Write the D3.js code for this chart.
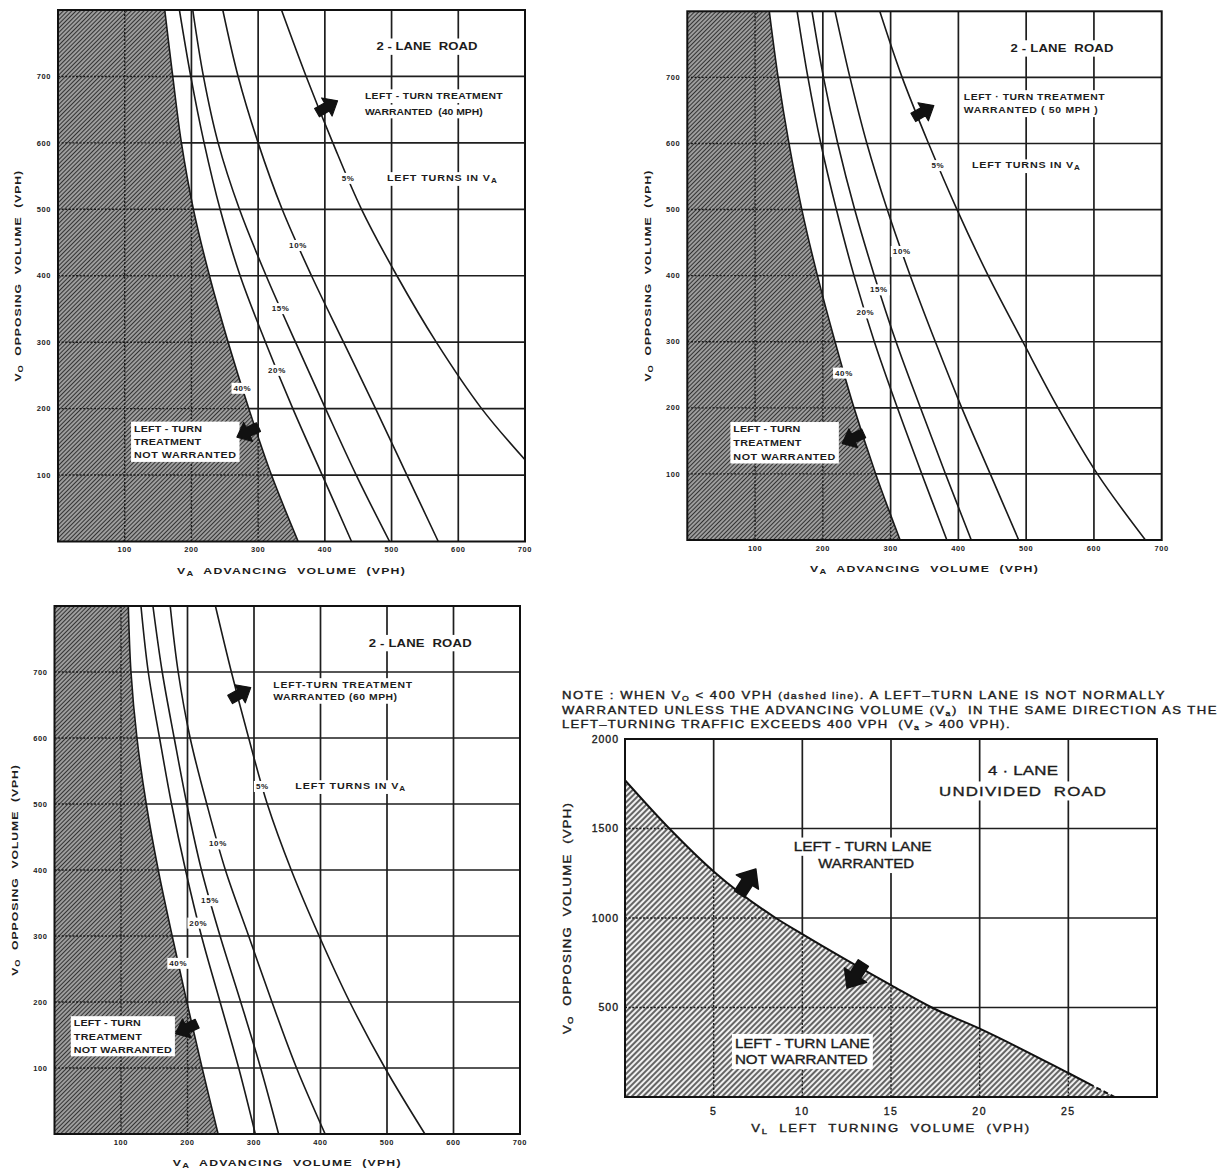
<!DOCTYPE html>
<html>
<head>
<meta charset="utf-8">
<script src="https://cdn.jsdelivr.net/npm/d3@7"></script>
<style>
  body { margin: 0; background: #fff; }
  svg text { font-family: "Liberation Sans", Arial, sans-serif; fill: #1c1c1c; white-space: pre; }
  .med { stroke: #1c1c1c; stroke-width: 0.35; }
</style>
</head>
<body>
<svg id="chart" width="1226" height="1173"></svg>
<script>
// ---- values ----
var vaTicks = [100, 200, 300, 400, 500, 600, 700];
var voTicks = [100, 200, 300, 400, 500, 600, 700];
var pctLabels = ["40%", "20%", "15%", "10%", "5%"];

// [VA, VO] points of each curve, 40% (edge of shading) first
var curves40mph = [
  [[160,800],[172,700],[185,600],[203,500],[227,400],[255,300],[286,200],[320,100],[360,0]],
  [[182,800],[199,700],[219,600],[243,500],[273,400],[311,300],[352,200],[396,100],[440,0]],
  [[202,800],[218,700],[240,600],[272,500],[312,400],[356,300],[401,200],[447,100],[497,0]],
  [[247,800],[270,700],[300,600],[336,500],[380,400],[428,300],[476,200],[523,100],[570,0]],
  [[335,800],[372,700],[412,600],[455,500],[508,400],[567,300],[635,200],[700,123]]
];
var curves50mph = [
  [[121,800],[134,700],[150,600],[169,500],[192,400],[218,300],[246,200],[278,100],[314,0]],
  [[162,800],[178,700],[197,600],[220,500],[246,400],[276,300],[310,200],[346,100],[383,0]],
  [[184,800],[201,700],[222,600],[247,500],[276,400],[308,300],[344,200],[381,100],[419,0]],
  [[218,800],[240,700],[265,600],[295,500],[329,400],[366,300],[405,200],[447,100],[489,0]],
  [[284,800],[317,700],[356,600],[398,500],[444,400],[495,300],[547,200],[605,100],[676,0]]
];
var curves60mph = [
  [[111,800],[115,700],[124,600],[138,500],[156,400],[177,300],[199,200],[222,100],[246,0]],
  [[130,800],[141,700],[158,600],[176,500],[197,400],[221,300],[249,200],[277,100],[302,0]],
  [[148,800],[162,700],[180,600],[199,500],[221,400],[249,300],[280,200],[310,100],[337,0]],
  [[174,800],[186,700],[204,600],[229,500],[257,400],[292,300],[327,200],[364,100],[407,0]],
  [[242,800],[266,700],[292,600],[320,500],[356,400],[398,300],[444,200],[497,100],[557,0]]
];

var vlTicks = [5, 10, 15, 20, 25];
var vo4Ticks = [500, 1000, 1500, 2000];
// [VL, VO] boundary of the 4-lane chart
var boundary4lane = [[0,1770],[2.5,1500],[5,1260],[8.5,1000],[10,910],[15,625],[17.3,500],[20,382],[25,134],[27.6,0]];

// ---- drawing ----
var svg = d3.select("#chart");
var defs = svg.append("defs");

function hatch(id, size, bg, stroke, w) {
  var p = defs.append("pattern").attr("id", id).attr("patternUnits", "userSpaceOnUse")
    .attr("width", size).attr("height", size).attr("patternTransform", "rotate(45)");
  p.append("rect").attr("width", size).attr("height", size).attr("fill", bg);
  p.append("line").attr("x1", size / 2).attr("x2", size / 2).attr("y1", 0).attr("y2", size)
    .attr("stroke", stroke).attr("stroke-width", w);
}
hatch("hatchDark", 3, "#c0c0c0", "#333", 1.5);
hatch("hatchLight", 4, "#f0f0f0", "#2a2a2a", 1.4);

// stretch the glyphs a little and spread the rest, so the text spans "target" px
function fitWidth(t, target, maxStretch) {
  maxStretch = maxStretch || 1.25;
  t.attr("letter-spacing", 0).attr("transform", null);
  var w = t.node().getComputedTextLength();
  var n = t.text().length;
  var s = Math.min(target / w, maxStretch);
  var ls = n > 1 ? Math.max(0, (target / s - w) / (n - 1)) : 0;
  t.attr("letter-spacing", ls);
  var ax = +t.attr("x") || 0;
  t.attr("transform", "translate(" + ax + ",0) scale(" + s + ",1) translate(" + (-ax) + ",0)");
}

// text with optional white box behind it
function addLabel(g, x, y, html, o) {
  o = o || {};
  var grp = g.append("g");
  var bg = grp.append("rect").attr("fill", "#fff");
  var tg = grp.append("g");
  var t = tg.append("text").attr("x", x).attr("y", y).attr("dy", "0.35em")
    .attr("font-size", o.size || 8).attr("font-weight", o.weight || "bold")
    .attr("text-anchor", o.anchor || "start").attr("class", o.cls || null).html(html);
  if (o.width) fitWidth(t, o.width);
  else if (o.ls) t.attr("letter-spacing", o.ls);
  if (o.bg === false) { bg.remove(); }
  else {
    var b = tg.node().getBBox(), p = o.pad == null ? 2 : o.pad;
    bg.attr("x", b.x - p).attr("y", b.y - p + 1).attr("width", b.width + 2 * p).attr("height", b.height + 2 * p - 2);
  }
  return t;
}

function sub(main, s, size) {
  return main + '<tspan dy="2" font-size="' + size + '">' + s + '</tspan><tspan dy="-2">';
}

function arrow(g, px, py, angle, scale) {
  g.append("path")
    .attr("d", "M13,0 L0,-11 L0,-5 L-12,-5 L-12,5 L0,5 L0,11 Z")
    .attr("transform", "translate(" + px + "," + py + ") rotate(" + angle + ") scale(" + scale + ")")
    .attr("fill", "#111").attr("stroke", "#111").attr("stroke-width", 1.2).attr("stroke-linejoin", "round");
}

function vaAt(curve, vo) {
  for (var i = 0; i < curve.length - 1; i++) {
    var a = curve[i], b = curve[i + 1];
    if (vo <= a[1] && vo >= b[1]) return a[0] + (b[0] - a[0]) * (a[1] - vo) / (a[1] - b[1]);
  }
  return curve[curve.length - 1][0];
}

var panels = [
  { id: "p40", curves: curves40mph, left: 58, right: 525, top: 10, bottom: 541.5,
    labelVo: [231, 258, 351, 446, 547], road: [553, 745], roadW: 101,
    warrVa: 460, warrVo: [670, 647], warrText: ["LEFT - TURN TREATMENT", "WARRANTED  (40 MPH)"], warrW: [138, 118],
    turnsVa: 493, turnsW: 110, notVa: 114, notVo: [170, 150, 130], notW: [68, 67, 102],
    arrows: [[403, 654, -30], [285, 165, 155]] },
  { id: "p50", curves: curves50mph, left: 687.3, right: 1161.7, top: 11.3, bottom: 540,
    labelVo: [253, 344, 379, 437, 567], road: [553, 744], roadW: 103,
    warrVa: 408, warrVo: [670, 650], warrText: ["LEFT · TURN TREATMENT", "WARRANTED ( 50 MPH )"], warrW: [141, 134],
    turnsVa: 420, turnsW: 108, notVa: 68, notVo: [168, 147, 126], notW: [67, 68, 102],
    arrows: [[348, 648, -30], [245, 154, 155]] },
  { id: "p60", curves: curves60mph, left: 54.5, right: 520, top: 606, bottom: 1134,
    labelVo: [259, 320, 354, 440, 527], road: [550, 744], roadW: 103,
    warrVa: 329, warrVo: [680, 662], warrText: ["LEFT-TURN TREATMENT", "WARRANTED (60 MPH)"], warrW: [139, 124],
    turnsVa: 362, turnsW: 110, notVa: 29, notVo: [168, 147, 128], notW: [67, 68, 98],
    arrows: [[279, 667, -30], [199, 160, 155]] }
];

function gridLines(g, x, y, xs, ys, x0, x1, y0, y1) {
  g.selectAll("line.v").data(xs).join("line").attr("class", "v")
    .attr("x1", function (d) { return x(d); }).attr("x2", function (d) { return x(d); })
    .attr("y1", y(y0)).attr("y2", y(y1));
  g.selectAll("line.h").data(ys).join("line").attr("class", "h")
    .attr("y1", function (d) { return y(d); }).attr("y2", function (d) { return y(d); })
    .attr("x1", x(x0)).attr("x2", x(x1));
}

function drawTwoLane(p) {
  var x = d3.scaleLinear().domain([0, 700]).range([p.left, p.right]);
  var y = d3.scaleLinear().domain([0, 800]).range([p.bottom, p.top]);
  var g = svg.append("g");

  defs.append("clipPath").attr("id", p.id + "clip").append("rect")
    .attr("x", p.left).attr("y", p.top).attr("width", p.right - p.left).attr("height", p.bottom - p.top);

  gridLines(g.append("g").attr("stroke", "#1e1e1e").attr("stroke-width", 1.7),
    x, y, vaTicks.slice(0, 6), voTicks, 0, 700, 0, 800);

  var area = d3.area().curve(d3.curveCatmullRom).y(function (d) { return y(d[1]); })
    .x0(x(0)).x1(function (d) { return x(d[0]); });
  g.append("path").attr("d", area(p.curves[0])).attr("fill", "url(#hatchDark)");
  defs.append("clipPath").attr("id", p.id + "shade").append("path").attr("d", area(p.curves[0]));
  gridLines(g.append("g").attr("stroke", "#1a1a1a").attr("stroke-width", 1.4)
    .attr("stroke-dasharray", "2,1.6").attr("clip-path", "url(#" + p.id + "shade)"),
    x, y, vaTicks.slice(0, 6), voTicks, 0, 700, 0, 800);

  var line = d3.line().curve(d3.curveCatmullRom)
    .x(function (d) { return x(d[0]); }).y(function (d) { return y(d[1]); });
  g.append("g").attr("clip-path", "url(#" + p.id + "clip)")
    .selectAll("path").data(p.curves).join("path")
    .attr("d", line).attr("fill", "none").attr("stroke", "#1a1a1a").attr("stroke-width", 1.6);

  // curve labels
  p.curves.forEach(function (c, i) {
    var vo = p.labelVo[i];
    addLabel(g, x(vaAt(c, vo)), y(vo), pctLabels[i], { anchor: "middle", size: 8, ls: 0.6, pad: 2 });
  });
  addLabel(g, x(p.turnsVa), y(p.labelVo[4]), sub("LEFT TURNS IN V", "A", 6.5) + "</tspan>", { size: 8.6, width: p.turnsW });

  addLabel(g, x(p.road[0]), y(p.road[1]), "2 - LANE  ROAD", { anchor: "middle", size: 10.5, width: p.roadW, pad: 3 });
  addLabel(g, x(p.warrVa), y(p.warrVo[0]), p.warrText[0], { size: 8.3, width: p.warrW[0], pad: 3 });
  addLabel(g, x(p.warrVa), y(p.warrVo[1]), p.warrText[1], { size: 8.3, width: p.warrW[1], pad: 3 });

  // not warranted box
  var box = g.append("g");
  var boxBg = box.append("rect").attr("fill", "#fff");
  var boxText = box.append("g");
  ["LEFT - TURN", "TREATMENT", "NOT WARRANTED"].forEach(function (s, i) {
    addLabel(boxText, x(p.notVa), y(p.notVo[i]), s, { size: 8.6, width: p.notW[i], bg: false });
  });
  var bb = boxText.node().getBBox();
  boxBg.attr("x", bb.x - 3).attr("y", bb.y - 2).attr("width", bb.width + 6).attr("height", bb.height + 4);

  arrow(g, x(p.arrows[0][0]), y(p.arrows[0][1]), p.arrows[0][2], 0.95);
  arrow(g, x(p.arrows[1][0]), y(p.arrows[1][1]), p.arrows[1][2], 0.95);

  // ticks
  g.append("g").selectAll("text").data(vaTicks).join("text")
    .attr("x", function (d) { return x(d); }).attr("y", p.bottom + 8).attr("dy", "0.35em")
    .attr("text-anchor", "middle").attr("font-size", 7.5).attr("font-weight", "bold")
    .attr("letter-spacing", 0.6).text(function (d) { return d; });
  g.append("g").selectAll("text").data(voTicks).join("text")
    .attr("x", p.left - 7).attr("y", function (d) { return y(d); }).attr("dy", "0.35em")
    .attr("text-anchor", "end").attr("font-size", 7.5).attr("font-weight", "bold")
    .attr("letter-spacing", 0.6).text(function (d) { return d; });

  var xt = g.append("text").attr("x", (p.left + p.right) / 2).attr("y", p.bottom + 29).attr("dy", "0.35em")
    .attr("text-anchor", "middle").attr("font-size", 9.8).attr("font-weight", "bold")
    .html(sub("V", "A", 7.5) + "  ADVANCING  VOLUME  (VPH)</tspan>");
  fitWidth(xt, 228);
  var yt = g.append("g").attr("transform", "translate(" + (p.left - 40) + "," + ((p.top + p.bottom) / 2) + ") rotate(-90)")
    .append("text").attr("x", 0).attr("text-anchor", "middle").attr("dy", "0.35em").attr("font-size", 9.8).attr("font-weight", "bold")
    .html(sub("V", "O", 7.5) + "  OPPOSING  VOLUME  (VPH)</tspan>");
  fitWidth(yt, 211);

  g.append("rect").attr("x", p.left).attr("y", p.top).attr("width", p.right - p.left).attr("height", p.bottom - p.top)
    .attr("fill", "none").attr("stroke", "#111").attr("stroke-width", 2);
}

panels.forEach(drawTwoLane);

// ---- 4-lane undivided road ----
(function () {
  var L = 625, R = 1157, T = 739, B = 1097;
  var x = d3.scaleLinear().domain([0, 30]).range([L, R]);
  var y = d3.scaleLinear().domain([0, 2000]).range([B, T]);
  var g = svg.append("g");

  gridLines(g.append("g").attr("stroke", "#1e1e1e").attr("stroke-width", 1.7),
    x, y, vlTicks, vo4Ticks.slice(0, 3), 0, 30, 0, 2000);

  var area = d3.area().curve(d3.curveMonotoneX).x(function (d) { return x(d[0]); })
    .y0(y(0)).y1(function (d) { return y(d[1]); });
  g.append("path").attr("d", area(boundary4lane)).attr("fill", "url(#hatchLight)");
  defs.append("clipPath").attr("id", "p4shade").append("path").attr("d", area(boundary4lane));
  gridLines(g.append("g").attr("stroke", "#1a1a1a").attr("stroke-width", 1.4)
    .attr("stroke-dasharray", "2,1.6").attr("clip-path", "url(#p4shade)"),
    x, y, vlTicks, vo4Ticks.slice(0, 3), 0, 30, 0, 2000);

  var line = d3.line().curve(d3.curveMonotoneX)
    .x(function (d) { return x(d[0]); }).y(function (d) { return y(d[1]); });
  defs.append("clipPath").attr("id", "p4solid").append("rect")
    .attr("x", L).attr("y", T).attr("width", x(26.4) - L).attr("height", B - T);
  defs.append("clipPath").attr("id", "p4dash").append("rect")
    .attr("x", x(26.4)).attr("y", T).attr("width", R - x(26.4)).attr("height", B - T);
  g.append("path").attr("d", line(boundary4lane)).attr("fill", "none").attr("stroke", "#111")
    .attr("stroke-width", 2).attr("clip-path", "url(#p4solid)");
  g.append("path").attr("d", line(boundary4lane)).attr("fill", "none").attr("stroke", "#111")
    .attr("stroke-width", 2).attr("stroke-dasharray", "5,3").attr("clip-path", "url(#p4dash)");

  addLabel(g, x(22.45), y(1827), "4 · LANE", { anchor: "middle", size: 13.5, weight: "normal", cls: "med", width: 70, pad: 3 });
  addLabel(g, x(22.45), y(1709), "UNDIVIDED  ROAD", { anchor: "middle", size: 13.5, weight: "normal", cls: "med", width: 167, pad: 3 });
  addLabel(g, x(13.4), y(1398), "LEFT - TURN LANE", { anchor: "middle", size: 12.5, weight: "normal", cls: "med", width: 138, pad: 3 });
  addLabel(g, x(13.6), y(1302), "WARRANTED", { anchor: "middle", size: 12.5, weight: "normal", cls: "med", width: 96, pad: 3 });

  var box = g.append("g");
  var boxBg = box.append("rect").attr("fill", "#fff");
  var boxText = box.append("g");
  addLabel(boxText, x(6.2), y(300), "LEFT - TURN LANE", { size: 12.5, weight: "normal", cls: "med", width: 135, bg: false });
  addLabel(boxText, x(6.2), y(207), "NOT WARRANTED", { size: 12.5, weight: "normal", cls: "med", width: 133, bg: false });
  var bb = boxText.node().getBBox();
  boxBg.attr("x", bb.x - 3).attr("y", bb.y - 2).attr("width", bb.width + 6).attr("height", bb.height + 4);

  arrow(g, x(6.9), y(1201), -57, 1.2);
  arrow(g, x(13.0), y(681), 123, 1.2);

  g.append("g").selectAll("text").data(vlTicks).join("text")
    .attr("x", function (d) { return x(d); }).attr("y", B + 14.5).attr("dy", "0.35em")
    .attr("text-anchor", "middle").attr("font-size", 10.5).attr("letter-spacing", 1.5).attr("class", "med")
    .text(function (d) { return d; });
  g.append("g").selectAll("text").data(vo4Ticks).join("text")
    .attr("x", L - 6).attr("y", function (d) { return y(d); }).attr("dy", "0.35em")
    .attr("text-anchor", "end").attr("font-size", 10.5).attr("letter-spacing", 1).attr("class", "med")
    .text(function (d) { return d; });

  var xt = g.append("text").attr("x", (L + R) / 2).attr("y", B + 31).attr("dy", "0.35em")
    .attr("text-anchor", "middle").attr("font-size", 10.5).attr("class", "med")
    .html(sub("V", "L", 7.5) + "  LEFT  TURNING  VOLUME  (VPH)</tspan>");
  fitWidth(xt, 278);
  var yt = g.append("g").attr("transform", "translate(" + (L - 58) + "," + ((T + B) / 2) + ") rotate(-90)")
    .append("text").attr("x", 0).attr("text-anchor", "middle").attr("dy", "0.35em").attr("font-size", 10.5).attr("class", "med")
    .html(sub("V", "O", 7.5) + "  OPPOSING  VOLUME  (VPH)</tspan>");
  fitWidth(yt, 231);

  g.append("rect").attr("x", L).attr("y", T).attr("width", R - L).attr("height", B - T)
    .attr("fill", "none").attr("stroke", "#111").attr("stroke-width", 2);

  // note above the chart
  var note = [
    ["NOTE : WHEN " + sub("V", "O", 7) + " &lt; 400 VPH <tspan font-size=\"8.5\">(dashed line)</tspan>. A LEFT–TURN LANE IS NOT NORMALLY</tspan>", 603],
    ["WARRANTED UNLESS THE ADVANCING VOLUME (" + sub("V", "a", 7) + ")  IN THE SAME DIRECTION AS THE</tspan>", 655],
    ["LEFT–TURNING TRAFFIC EXCEEDS 400 VPH  (" + sub("V", "a", 7) + " &gt; 400 VPH).</tspan>", 448]
  ];
  note.forEach(function (n, i) {
    var t = svg.append("text").attr("x", 562).attr("y", 695.7 + i * 14.3).attr("dy", "0.35em")
      .attr("font-size", 10.5).attr("class", "med").html(n[0]);
    fitWidth(t, n[1]);
  });
})();
</script>
</body>
</html>
